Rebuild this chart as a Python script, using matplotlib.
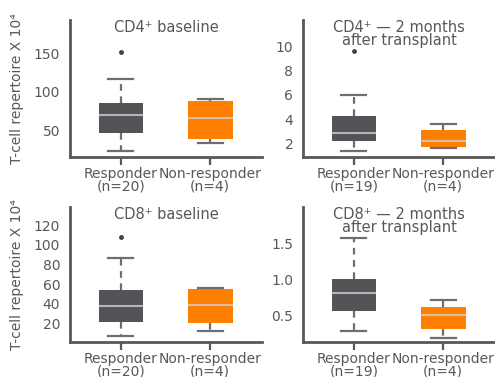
import matplotlib
matplotlib.use("Agg")
import matplotlib.pyplot as plt

plt.rcParams['font.family'] = ['DejaVu Sans']

groups = ["Responder", "Non-responder"]
n_cd4 = [20, 4]
n_cd4_2m = [19, 4]
n_cd8 = [20, 4]
n_cd8_2m = [19, 4]

# stats: whislo, q1, med, q3, whishi, fliers
cd4_base = [[23, 45.7, 69, 85, 116.5, [152]], [32.6, 39, 66, 88, 91, []]]
cd4_2m = [[1.39, 2.22, 2.83, 4.27, 5.98, [9.6]], [1.64, 1.72, 2.22, 3.1, 3.57, []]]
cd8_base = [[7.4, 21.6, 38, 53.9, 86.9, [108]], [12.5, 20.6, 39.3, 54.9, 56.2, []]]
cd8_2m = [[0.28, 0.56, 0.81, 1.0, 1.58, []], [0.184, 0.31, 0.51, 0.62, 0.72, []]]

titles = ["CD4\u207a baseline", "CD4\u207a \u2014 2 months\nafter transplant",
          "CD8\u207a baseline", "CD8\u207a \u2014 2 months\nafter transplant"]
yticks = [[50, 100, 150], [2, 4, 6, 8, 10], [20, 40, 60, 80, 100, 120], [0.5, 1.0, 1.5]]
yticklabels = [["50", "100", "150"], ["2", "4", "6", "8", "10"],
               ["20", "40", "60", "80", "100", "120"], ["0.5", "1.0", "1.5"]]
ylims = [(15, 193), (0.87, 12.2), (1.3, 138.6), (0.128, 2.01)]
ylabel = "T-cell repertoire X 10\u2074"

colors = ["#545458", "#ff8000"]
txt = "#58585a"

W, H = 495, 377
fig = plt.figure(figsize=(W / 100, H / 100), dpi=100)

rects = [(70, 20, 192, 137), (303, 20, 192, 137), (70, 207, 192, 135), (303, 207, 192, 135)]
datasets = [cd4_base, cd4_2m, cd8_base, cd8_2m]
ns = [n_cd4, n_cd4_2m, n_cd8, n_cd8_2m]

for i, (r, data) in enumerate(zip(rects, datasets)):
    x, y, w, h = r
    ax = fig.add_axes([x / W, 1 - (y + h) / H, w / W, h / H])
    stats = []
    for g, d in zip(groups, data):
        stats.append(dict(whislo=d[0], q1=d[1], med=d[2], q3=d[3], whishi=d[4], fliers=d[5], label=g))
    bp = ax.bxp(stats, positions=[1, 2], widths=0.5, patch_artist=True, showfliers=True,
                medianprops=dict(color="#d0d0d0", linewidth=1.5, alpha=0.8),
                whiskerprops=dict(color="#6e6e72", linewidth=1.6, linestyle=(0, (3, 2.5))),
                capprops=dict(color="#6e6e72", linewidth=1.6),
                flierprops=dict(marker='o', markersize=2.5, markerfacecolor="#444446",
                                markeredgecolor="#444446"),
                capwidths=0.28)
    for patch, c in zip(bp['boxes'], colors):
        patch.set_facecolor(c)
        patch.set_edgecolor(c)
        patch.set_linewidth(0)
    ax.set_xlim(0.43, 2.58)
    ax.set_ylim(*ylims[i])
    ax.set_yticks(yticks[i])
    ax.set_yticklabels(yticklabels[i])
    ax.set_xticks([1, 2])
    ax.set_xticklabels([f"{g}\n(n={n})" for g, n in zip(groups, ns[i])], linespacing=0.82)
    ax.tick_params(axis='y', length=0, labelsize=10, labelcolor=txt, pad=7)
    ax.tick_params(axis='x', length=6, width=1.6, color=txt, labelsize=10, labelcolor=txt, pad=1.5)
    for s in ['top', 'right']:
        ax.spines[s].set_visible(False)
    for s in ['left', 'bottom']:
        ax.spines[s].set_color(txt)
        ax.spines[s].set_linewidth(2)
    ax.text(0.5, 1.0, titles[i], transform=ax.transAxes,
            ha='center', va='top', fontsize=10.5, color=txt, linespacing=0.82)
    if i % 2 == 0:
        ax.set_ylabel(ylabel, fontsize=10, color=txt, labelpad=7)

fig.savefig("out.png", dpi=100)
